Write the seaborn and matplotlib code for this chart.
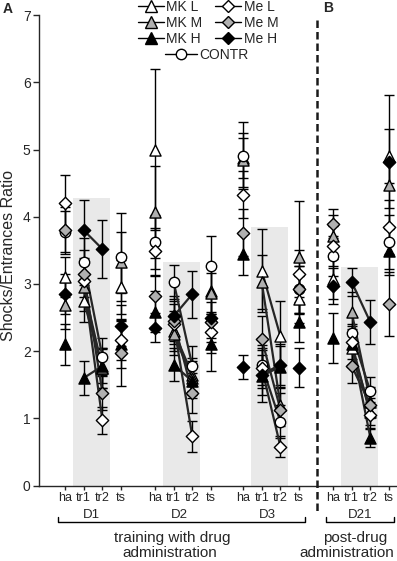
import matplotlib
matplotlib.use("Agg")
import matplotlib.pyplot as plt
from matplotlib.lines import Line2D
import numpy as np
import pandas as pd
import seaborn as sns

# ---- data ----
days = ["D1", "D2", "D3", "D21"]
phases = ["ha", "tr1", "tr2", "ts"]
day_start = [0.0, 4.81, 9.52, 14.33]
shade_top = [4.28, 3.33, 3.85, 3.25]

groups = ["MK L", "MK M", "MK H", "CONTR", "Me L", "Me M", "Me H"]

# values per point: D1 ha,tr1,tr2,ts | D2 ... | D3 ... | D21 ...
mk_l = [3.10, 2.75, 1.75, 2.95, 5.00, 2.30, 1.65, 2.90, 4.88, 3.20, 2.22, 2.77, 3.07, 2.05, 1.10, 4.90]
mk_l_err = [0.30, 0.32, 0.30, 0.40, 1.20, 0.30, 0.25, 0.35, 0.30, 0.62, 0.52, 0.35, 0.30, 0.28, 0.20, 0.40]
mk_m = [2.68, 2.95, 1.75, 3.32, 4.07, 2.25, 1.60, 2.86, 4.85, 3.03, 1.20, 3.40, 3.72, 2.58, 1.25, 4.48]
mk_m_err = [0.35, 0.35, 0.30, 0.45, 0.68, 0.30, 0.25, 0.30, 0.40, 0.40, 0.25, 0.84, 0.30, 0.30, 0.22, 0.35]
mk_h = [2.10, 1.60, 1.78, 2.10, 2.59, 1.80, 1.55, 2.10, 3.44, 1.63, 1.77, 2.43, 2.20, 2.10, 0.71, 3.49]
mk_h_err = [0.30, 0.25, 0.25, 0.35, 0.30, 0.25, 0.25, 0.40, 0.30, 0.38, 0.30, 0.30, 0.37, 0.30, 0.13, 0.35]
contr = [3.78, 3.33, 1.92, 3.40, 3.62, 3.03, 1.78, 3.27, 4.91, 1.79, 0.95, 2.92, 3.42, 2.27, 1.40, 3.63]
contr_err = [0.30, 0.35, 0.28, 0.65, 0.40, 0.25, 0.30, 0.45, 0.50, 0.30, 0.25, 0.35, 0.30, 0.25, 0.22, 0.40]
me_l = [4.20, 3.04, 0.97, 2.17, 3.49, 2.40, 0.73, 2.28, 4.33, 1.75, 0.58, 3.15, 3.57, 2.13, 1.05, 3.85]
me_l_err = [0.42, 0.35, 0.20, 0.30, 0.35, 0.30, 0.23, 0.30, 0.35, 0.30, 0.15, 0.35, 0.30, 0.25, 0.20, 0.40]
me_m = [3.80, 3.15, 1.38, 1.98, 2.82, 2.45, 1.38, 2.43, 3.76, 2.18, 1.13, 2.92, 3.90, 1.78, 1.20, 2.70]
me_m_err = [0.35, 0.35, 0.25, 0.50, 0.30, 0.30, 0.30, 0.30, 0.35, 0.35, 0.25, 0.35, 0.22, 0.25, 0.20, 0.48]
me_h = [2.85, 3.80, 3.52, 2.38, 2.35, 2.52, 2.85, 2.50, 1.76, 1.65, 1.80, 1.75, 2.97, 3.03, 2.43, 4.82]
me_h_err = [0.30, 0.45, 0.43, 0.30, 0.22, 0.30, 0.35, 0.30, 0.18, 0.30, 0.30, 0.29, 0.27, 0.21, 0.33, 1.00]

values = [mk_l, mk_m, mk_h, contr, me_l, me_m, me_h]
errors = [mk_l_err, mk_m_err, mk_h_err, contr_err, me_l_err, me_m_err, me_h_err]
faces = ["white", "#b0b0b0", "black", "white", "white", "#b0b0b0", "black"]
marks = ["^", "^", "^", "o", "D", "D", "D"]
msize = [8, 8, 8, 7.5, 6.3, 6.3, 6.3]

rows = []
for g, vals, errs in zip(groups, values, errors):
    for i, (v, e) in enumerate(zip(vals, errs)):
        d, p = divmod(i, 4)
        rows.append({"group": g, "day": days[d], "phase": phases[p],
                     "x": day_start[d] + p, "y": v, "err": e})
df = pd.DataFrame(rows)

# ---- figure ----
W, H = 397, 561
sns.set_style("ticks")
plt.rcParams["font.family"] = ["Liberation Sans", "DejaVu Sans"]

def fx(px):
    return px / W

def fy(py):
    return 1 - py / H

fig = plt.figure(figsize=(W / 100, H / 100), dpi=100)
ax = fig.add_axes([fx(39), fy(485.5), fx(W - 39), (485.5 - 15.3) / H])

# gray training bands
for s, top in zip(day_start, shade_top):
    ax.fill_between([s + 0.45, s + 2.4], 0, top, color="#e9e9e9", lw=0, zorder=0)

# error bars
ax.errorbar(df["x"], df["y"], yerr=df["err"], fmt="none", ecolor="black",
            elinewidth=1, capsize=3.8, capthick=1, zorder=2)

# tr1 -> tr2 lines
seg = df[df["phase"].isin(["tr1", "tr2"])]
sns.lineplot(data=seg, x="x", y="y", hue="group", units="day", estimator=None,
             palette={g: "#262626" for g in groups}, lw=1.6, legend=False,
             ax=ax, zorder=3)

# markers, drawn group by group
for i, g in enumerate(groups):
    sub = df[df["group"] == g]
    sns.scatterplot(x=sub["x"], y=sub["y"], marker=marks[i], s=msize[i] ** 2,
                    color=faces[i], edgecolor="black", linewidth=1,
                    ax=ax, zorder=4 + i, legend=False)

ax.set_xlim((39 - 65) / 18.7, (W - 65) / 18.7)
ax.set_ylim(0, 7)
ax.set_yticks(range(8))
ax.tick_params(axis="y", labelsize=10, length=4, width=1, pad=2)
ax.set_xticks(df["x"].unique())
ax.set_xticklabels(phases * 4)
ax.tick_params(axis="x", labelsize=9, length=3, width=1, pad=2)
ax.set_xlabel("")
ax.set_ylabel("Shocks/Entrances Ratio", fontsize=11.5)
ax.yaxis.set_label_coords((16 - 39) / (W - 39), 0.49)
sns.despine(ax=ax)
ax.spines["left"].set_linewidth(1)
ax.spines["bottom"].set_linewidth(1)

# legend
hl = []
for i, g in enumerate(groups):
    hl.append(Line2D([], [], color="black", lw=1, marker=marks[i],
                     markerfacecolor=faces[i], markeredgecolor="black",
                     markersize=msize[i] * (1.0 if marks[i] != "D" else 1.05)))
leg1 = fig.legend(hl[:3] + hl[4:], groups[:3] + groups[4:], ncol=2,
                  loc="upper left", bbox_to_anchor=(fx(138), fy(0)),
                  frameon=False, fontsize=10, handlelength=1.9,
                  handletextpad=0.15, columnspacing=0.9, labelspacing=0.15,
                  borderpad=0, borderaxespad=0)
leg2 = fig.legend([hl[3]], ["CONTR"], loc="upper left",
                  bbox_to_anchor=(fx(165), fy(48)), frameon=False, fontsize=10,
                  handlelength=2.3, handletextpad=0.15, borderpad=0,
                  borderaxespad=0)

# day labels and group brackets
for d, xpx in zip(days, [91, 179, 267, 360]):
    fig.text(fx(xpx), fy(515), d, ha="center", va="center", fontsize=9.5)

def bracket(x0, x1, y, h=5):
    fig.add_artist(Line2D([fx(x0), fx(x0), fx(x1), fx(x1)],
                          [fy(y - h), fy(y), fy(y), fy(y - h)],
                          color="black", lw=1))

bracket(58, 305, 521.5)
bracket(326, 394, 521.5)
fig.text(fx(172), fy(538), "training with drug", ha="center", va="center", fontsize=11)
fig.text(fx(170), fy(553), "administration", ha="center", va="center", fontsize=11)
fig.text(fx(355), fy(538), "post-drug", ha="center", va="center", fontsize=11)
fig.text(fx(347), fy(553), "administration", ha="center", va="center", fontsize=11)

# separator between panels
fig.add_artist(Line2D([fx(317), fx(317)], [fy(20), fy(512)], color="#1a1a1a",
                      lw=1.8, ls=(0, (3, 1.6))))

fig.text(fx(8), fy(9), "A", ha="center", va="center", fontsize=10, fontweight="bold")
fig.text(fx(328), fy(8), "B", ha="center", va="center", fontsize=10, fontweight="bold")

fig.savefig("out.png", dpi=100)
